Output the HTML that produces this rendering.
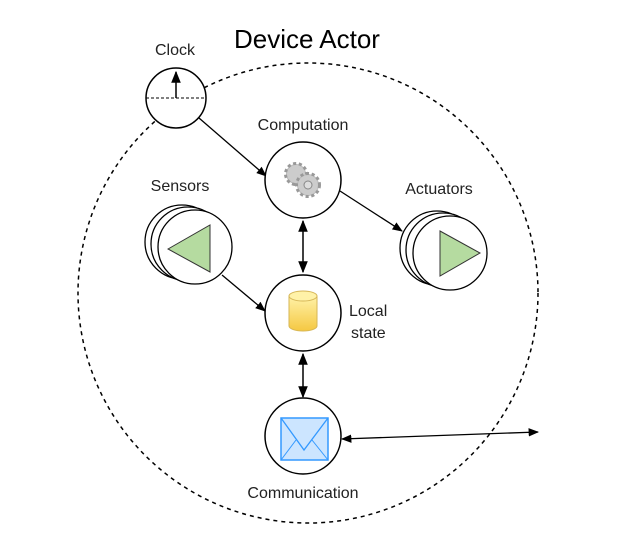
<!DOCTYPE html>
<html><head><style>body{margin:0;background:#fff}</style></head><body>
<svg width="634" height="550" viewBox="0 0 634 550" xmlns="http://www.w3.org/2000/svg" font-family="Liberation Sans, sans-serif" fill="#222">
<defs>
<marker id="a" viewBox="0 0 10 10" refX="9" refY="5" markerWidth="8" markerHeight="8" orient="auto-start-reverse"><path d="M0,1 L10,5 L0,9 z" fill="#000"/></marker>
<linearGradient id="y" x1="0" y1="0" x2="0" y2="1"><stop offset="0" stop-color="#fff2a8"/><stop offset="1" stop-color="#f5c842"/></linearGradient>
</defs>
<circle cx="308" cy="293" r="230" fill="none" stroke="#000" stroke-width="1.5" stroke-dasharray="4,4"/>
<text x="307" y="48" font-size="26" text-anchor="middle" fill="#000">Device Actor</text>
<text x="175" y="55" font-size="16" text-anchor="middle">Clock</text>
<circle cx="176" cy="98" r="30" fill="#fff" stroke="#000" stroke-width="1.5"/>
<line x1="146" y1="98" x2="206" y2="98" stroke="#000" stroke-dasharray="3,2"/>
<line x1="176" y1="98" x2="176" y2="72" stroke="#000" stroke-width="1.5" marker-end="url(#a)"/>
<line x1="199" y1="118" x2="266" y2="176" stroke="#000" stroke-width="1.3" marker-end="url(#a)"/>
<text x="303" y="130" font-size="16" text-anchor="middle">Computation</text>
<circle cx="303" cy="180" r="38" fill="#fff" stroke="#000" stroke-width="1.5"/>
<g transform="translate(303,180)">
<circle cx="-7" cy="-6" r="10" fill="#bbb" stroke="#999" stroke-width="4" stroke-dasharray="3,2.5"/>
<circle cx="-7" cy="-6" r="9" fill="#ccc"/>
<circle cx="5" cy="5" r="11" fill="#bbb" stroke="#999" stroke-width="4" stroke-dasharray="3,2.5"/>
<circle cx="5" cy="5" r="10" fill="#ccc"/>
<circle cx="5" cy="5" r="4" fill="#ddd" stroke="#888"/>
</g>
<line x1="340" y1="191" x2="402" y2="231" stroke="#000" stroke-width="1.3" marker-end="url(#a)"/>
<line x1="303" y1="221" x2="303" y2="272" stroke="#000" stroke-width="1.5" marker-start="url(#a)" marker-end="url(#a)"/>
<text x="180" y="191" font-size="16" text-anchor="middle">Sensors</text>
<circle cx="182" cy="242" r="37" fill="#fff" stroke="#000" stroke-width="1.3"/>
<circle cx="188" cy="244" r="37" fill="#fff" stroke="#000" stroke-width="1.3"/>
<circle cx="195" cy="247" r="37" fill="#fff" stroke="#000" stroke-width="1.3"/>
<polygon points="168,249 210,225 210,272" fill="#b5dba0" stroke="#333"/>
<line x1="222" y1="275" x2="265" y2="311" stroke="#000" stroke-width="1.3" marker-end="url(#a)"/>
<text x="439" y="194" font-size="16" text-anchor="middle">Actuators</text>
<circle cx="437" cy="248" r="37" fill="#fff" stroke="#000" stroke-width="1.3"/>
<circle cx="443" cy="250" r="37" fill="#fff" stroke="#000" stroke-width="1.3"/>
<circle cx="450" cy="253" r="37" fill="#fff" stroke="#000" stroke-width="1.3"/>
<polygon points="440,231 480,253 440,276" fill="#b5dba0" stroke="#333"/>
<circle cx="303" cy="313" r="38" fill="#fff" stroke="#000" stroke-width="1.5"/>
<path d="M289,296 v30 a14,5 0 0 0 28,0 v-30" fill="url(#y)" stroke="#d6b656"/>
<ellipse cx="303" cy="296" rx="14" ry="5" fill="#fff2a8" stroke="#d6b656"/>
<text x="349" y="316" font-size="16">Local</text>
<text x="351" y="338" font-size="16">state</text>
<line x1="303" y1="354" x2="303" y2="397" stroke="#000" stroke-width="1.5" marker-start="url(#a)" marker-end="url(#a)"/>
<circle cx="303" cy="436" r="38" fill="#fff" stroke="#000" stroke-width="1.5"/>
<rect x="281" y="418" width="47" height="42" fill="#cce5ff" stroke="#3399ff" stroke-width="1.5"/>
<polyline points="281,418 304,450 328,418" fill="none" stroke="#3399ff" stroke-width="1.3"/>
<line x1="281" y1="460" x2="296" y2="440" stroke="#3399ff"/><line x1="328" y1="460" x2="312" y2="440" stroke="#3399ff"/>
<line x1="342" y1="439" x2="538" y2="432" stroke="#000" stroke-width="1.3" marker-start="url(#a)" marker-end="url(#a)"/>
<text x="303" y="498" font-size="16" text-anchor="middle">Communication</text>
</svg>
</body></html>
